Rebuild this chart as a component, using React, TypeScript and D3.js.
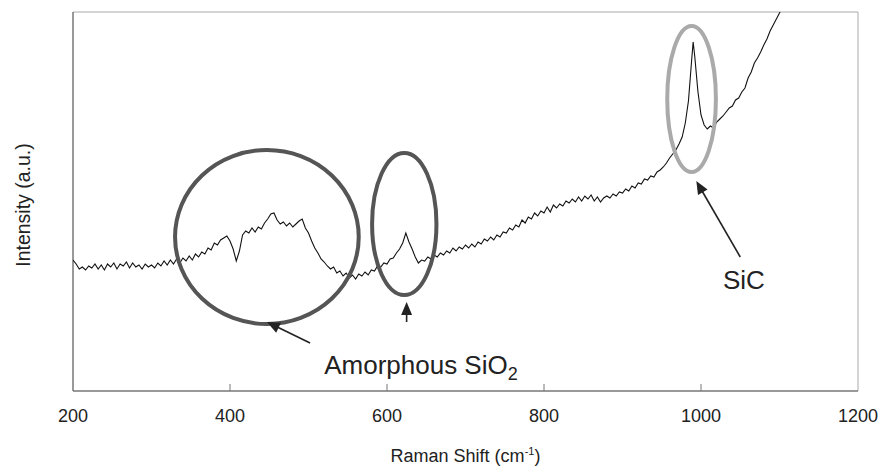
import React from "react";
import * as d3 from "d3";

// Raman spectrum: [shift (cm-1), intensity (a.u.)]
const spectrum: [number, number][] = [
  [200, 131], [204, 127], [208, 122], [212, 124], [216, 121], [220, 125], [224, 123], [228, 127],
  [232, 122], [236, 126], [240, 121], [244, 127], [248, 124], [252, 128], [256, 122], [260, 127],
  [264, 125], [268, 129], [272, 123], [276, 128], [280, 124], [284, 126], [288, 122], [292, 127],
  [296, 124], [300, 126], [304, 123], [308, 128], [312, 125], [316, 130], [320, 126], [324, 131],
  [328, 127], [332, 132], [336, 128], [340, 133], [344, 130], [348, 135], [352, 131], [356, 137],
  [360, 134], [364, 139], [368, 137], [372, 143], [376, 141], [380, 148], [384, 146], [388, 151],
  [392, 153], [396, 155], [400, 150], [404, 142], [408, 130], [412, 140], [416, 156], [420, 160],
  [424, 158], [428, 163], [432, 159], [436, 164], [440, 162], [444, 168], [448, 172], [452, 177],
  [456, 178], [460, 171], [464, 167], [468, 169], [472, 165], [476, 168], [480, 164], [484, 167],
  [488, 170], [492, 172], [496, 163], [500, 158], [504, 150], [508, 143], [512, 138], [516, 132],
  [520, 129], [524, 125], [528, 122], [532, 124], [536, 118], [540, 120], [544, 115], [548, 118],
  [552, 113], [556, 116], [560, 112], [564, 117], [568, 115], [572, 119], [576, 116], [580, 121],
  [584, 120], [588, 125], [592, 124], [596, 128], [600, 127], [604, 132], [608, 133], [612, 138],
  [616, 142], [620, 148], [624, 158], [628, 149], [632, 142], [636, 134], [640, 128], [644, 131],
  [648, 130], [652, 134], [656, 132], [660, 136], [664, 134], [668, 138], [672, 136], [676, 140],
  [680, 138], [684, 143], [688, 140], [692, 144], [696, 142], [700, 146], [704, 143], [708, 147],
  [712, 144], [716, 149], [720, 147], [724, 152], [728, 150], [732, 154], [736, 151], [740, 156],
  [744, 154], [748, 159], [752, 158], [756, 163], [760, 161], [764, 166], [768, 164], [772, 171],
  [776, 168], [780, 174], [784, 172], [788, 178], [792, 175], [796, 180], [800, 178], [804, 184],
  [808, 179], [812, 186], [816, 183], [820, 187], [824, 185], [828, 190], [832, 188], [836, 192],
  [840, 189], [844, 194], [848, 190], [852, 195], [856, 192], [860, 196], [864, 190], [868, 194],
  [872, 189], [876, 193], [880, 195], [884, 193], [888, 197], [892, 195], [896, 199], [900, 198],
  [904, 202], [908, 200], [912, 205], [916, 203], [920, 208], [924, 207], [928, 212], [932, 211],
  [936, 215], [940, 214], [944, 219], [948, 221], [952, 224], [956, 228], [960, 233], [964, 237],
  [968, 241], [972, 247], [976, 254], [980, 268], [984, 290], [988, 330], [990, 349], [992, 335],
  [996, 300], [1000, 276], [1004, 266], [1008, 262], [1012, 265], [1016, 263], [1020, 269], [1024, 272],
  [1028, 275], [1032, 279], [1036, 283], [1040, 285], [1044, 291], [1048, 293], [1052, 299], [1056, 303],
  [1060, 313], [1064, 319], [1068, 328], [1072, 333], [1076, 339], [1080, 346], [1084, 352], [1088, 360],
  [1092, 366], [1096, 372], [1100, 378], [1104, 384], [1108, 391], [1112, 396],
];

const xTicks = [200, 400, 600, 800, 1000, 1200];

// ellipses marking the bands: center shift, center intensity, half-width (cm-1), half-height (a.u.)
const rings = [
  { cx: 447, cy: 154, rx: 117, ry: 87, color: "#555" },
  { cx: 622, cy: 167, rx: 41, ry: 71, color: "#555" },
  { cx: 988, cy: 292, rx: 31, ry: 73, color: "#aaa" },
];

// arrows: from -> to, in data units
const arrows = [
  { x1: 502, y1: 48, x2: 447, y2: 69 },
  { x1: 625, y1: 69, x2: 625, y2: 89 },
  { x1: 1050, y1: 134, x2: 994, y2: 210 },
];

const W = 883;
const H = 466;
const m = { top: 12, right: 25, bottom: 75, left: 73 };

export default function App() {
  const x = d3.scaleLinear().domain([200, 1200]).range([m.left, W - m.right]);
  const y = d3.scaleLinear().domain([0, 379]).range([H - m.bottom, m.top]);
  const line = d3.line<[number, number]>().x(d => x(d[0])).y(d => y(d[1]));
  const sx = (W - m.left - m.right) / 1000;
  const sy = (H - m.top - m.bottom) / 379;

  const head = (a: typeof arrows[0]) => {
    const X1 = x(a.x1), Y1 = y(a.y1), X2 = x(a.x2), Y2 = y(a.y2);
    const ang = Math.atan2(Y2 - Y1, X2 - X1);
    const L = 13, w = 5.5;
    const bx = X2 - L * Math.cos(ang), by = Y2 - L * Math.sin(ang);
    const px = -Math.sin(ang) * w, py = Math.cos(ang) * w;
    return {
      shaft: [X1, Y1, bx + (X2 - bx) * 0.2, by + (Y2 - by) * 0.2],
      tri: `M${X2},${Y2}L${bx + px},${by + py}L${bx - px},${by - py}Z`,
    };
  };

  const font = "'Liberation Sans', Arial, sans-serif";

  return (
    <svg width={W} height={H} style={{ position: "absolute", left: 0, top: 0, background: "#fff" }}>
      <defs>
        <clipPath id="plot">
          <rect x={m.left} y={m.top} width={W - m.left - m.right} height={H - m.top - m.bottom} />
        </clipPath>
      </defs>
      {/* frame */}
      <line x1={m.left} x2={W - m.right} y1={m.top} y2={m.top} stroke="#aaa" strokeWidth={1} />
      <line x1={W - m.right} x2={W - m.right} y1={m.top} y2={H - m.bottom} stroke="#aaa" strokeWidth={1} />
      <line x1={m.left} x2={m.left} y1={m.top} y2={H - m.bottom} stroke="#777" strokeWidth={1.5} />
      <line x1={m.left} x2={W - m.right} y1={H - m.bottom} y2={H - m.bottom} stroke="#777" strokeWidth={1.5} />
      {xTicks.slice(1, -1).map(t => (
        <line key={t} x1={x(t)} x2={x(t)} y1={H - m.bottom} y2={H - m.bottom - 7} stroke="#777" strokeWidth={1} />
      ))}
      {xTicks.map(t => (
        <text key={t} x={x(t)} y={H - m.bottom + 31} textAnchor="middle" fontSize={18} fontFamily={font} fill="#222">
          {t}
        </text>
      ))}
      <text x={x(700)} y={H - 4} textAnchor="middle" fontSize={18} fontFamily={font} fill="#222">
        Raman Shift (cm<tspan dy={-7} fontSize={11}>-1</tspan><tspan dy={7}>)</tspan>
      </text>
      <text transform={`translate(30,205) rotate(-90)`} textAnchor="middle" fontSize={19.5} fontFamily={font} fill="#222">
        Intensity (a.u.)
      </text>

      <path d={line(spectrum) || ""} fill="none" stroke="#111" strokeWidth={1.1} clipPath="url(#plot)" />

      {rings.map((r, i) => (
        <ellipse key={i} cx={x(r.cx)} cy={y(r.cy)} rx={r.rx * sx} ry={r.ry * sy} fill="none" stroke={r.color} strokeWidth={4} />
      ))}
      {arrows.map((a, i) => {
        const h = head(a);
        return (
          <g key={i}>
            <line x1={h.shaft[0]} y1={h.shaft[1]} x2={h.shaft[2]} y2={h.shaft[3]} stroke="#222" strokeWidth={1.6} />
            <path d={h.tri} fill="#222" />
          </g>
        );
      })}
      <text x={x(520)} y={y(17)} fontSize={26} fontFamily={font} fill="#222">
        Amorphous SiO<tspan dy={6} fontSize={18}>2</tspan>
      </text>
      <text x={x(1028)} y={y(102)} fontSize={26} fontFamily={font} fill="#222">SiC</text>
    </svg>
  );
}
